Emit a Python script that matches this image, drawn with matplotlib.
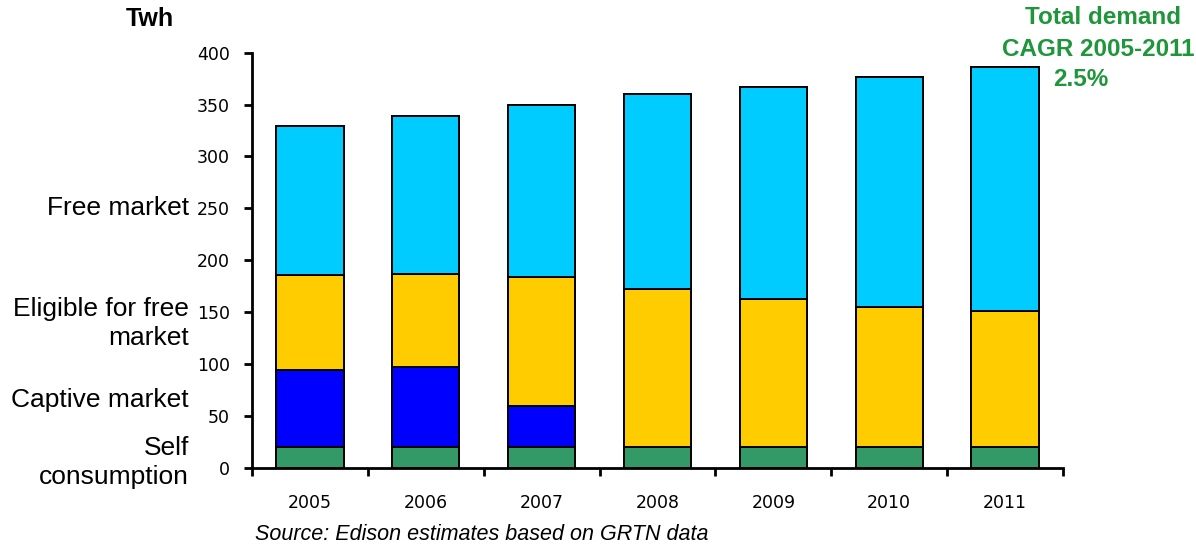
import matplotlib

matplotlib.use("Agg")
import numpy as np
from matplotlib import pyplot as plt
from matplotlib.transforms import blended_transform_factory

years = ["2005", "2006", "2007", "2008", "2009", "2010", "2011"]
self_consumption = [20, 20, 20, 20, 20, 20, 20]
captive_market = [74, 77, 39, 0, 0, 0, 0]
eligible_market = [92, 90, 125, 152, 143, 135, 131]
free_market = [143, 152, 166, 188, 204, 222, 235]

segment_names = ["Self\nconsumption", "Captive market", "Eligible for free\nmarket", "Free market"]
segment_label_y = [5, 65, 139, 250]
colors = ["#339966", "#0000FF", "#FFCC00", "#00CCFF"]

cagr_lines = ["Total demand", "CAGR 2005-2011", "2.5%"]

tick_font = ["DejaVu Sans"]
text_font = ["Liberation Sans", "DejaVu Sans"]

fig = plt.figure(figsize=(11.96, 5.45), dpi=100)
ax = fig.add_axes([252 / 1196, 1 - 467.7 / 545, (1063 - 252) / 1196, (467.7 - 52.7) / 545])

x = np.arange(len(years))
bottom = np.zeros(len(years))
for values, color in zip([self_consumption, captive_market, eligible_market, free_market], colors):
    vals = np.array(values, dtype=float)
    mask = vals > 0
    ax.bar(x[mask], vals[mask], bottom=bottom[mask], width=0.58, color=color,
           edgecolor="black", linewidth=1.4, zorder=3)
    bottom += vals

ax.set_xlim(-0.5, len(years) - 0.5)
ax.set_ylim(0, 400)
ax.set_yticks(range(0, 401, 50))
ax.set_xticks(x)
ax.set_xticklabels(years)
ax.set_xticks(np.arange(-0.5, len(years)), minor=True)
ax.tick_params(axis="x", which="major", length=0, pad=19)
ax.tick_params(axis="x", which="minor", length=6, width=2, direction="out")
ax.tick_params(axis="y", length=6, width=2, direction="out", pad=10)
for lbl in ax.get_xticklabels() + ax.get_yticklabels():
    lbl.set_family(tick_font)
    lbl.set_fontsize(12.5)

for side in ["top", "right"]:
    ax.spines[side].set_visible(False)
for side in ["left", "bottom"]:
    ax.spines[side].set_linewidth(2)

# series names drawn to the left of the value axis
trans = blended_transform_factory(fig.transFigure, ax.transData)
for name, yv in zip(segment_names, segment_label_y):
    ax.text(189 / 1196, yv, name, transform=trans, ha="right", va="center",
            multialignment="right", fontsize=19, family=text_font, linespacing=1.27)

fig.text(150 / 1196, 1 - 19 / 545, "Twh", ha="center", va="center",
         fontsize=18, fontweight="bold", family=text_font)

green = "#1E9639"
for line, cx, cy in zip(cagr_lines, [1103, 1098, 1081], [18, 49, 80]):
    fig.text(cx / 1196, 1 - cy / 545, line, ha="center", va="center", color=green,
             fontsize=17.5, fontweight="bold", family=text_font)

fig.text(255 / 1196, 1 - 535 / 545, "Source: Edison estimates based on GRTN data",
         ha="left", va="center", fontsize=15.5, style="italic", family=text_font)

fig.savefig("out.png", dpi=100)
